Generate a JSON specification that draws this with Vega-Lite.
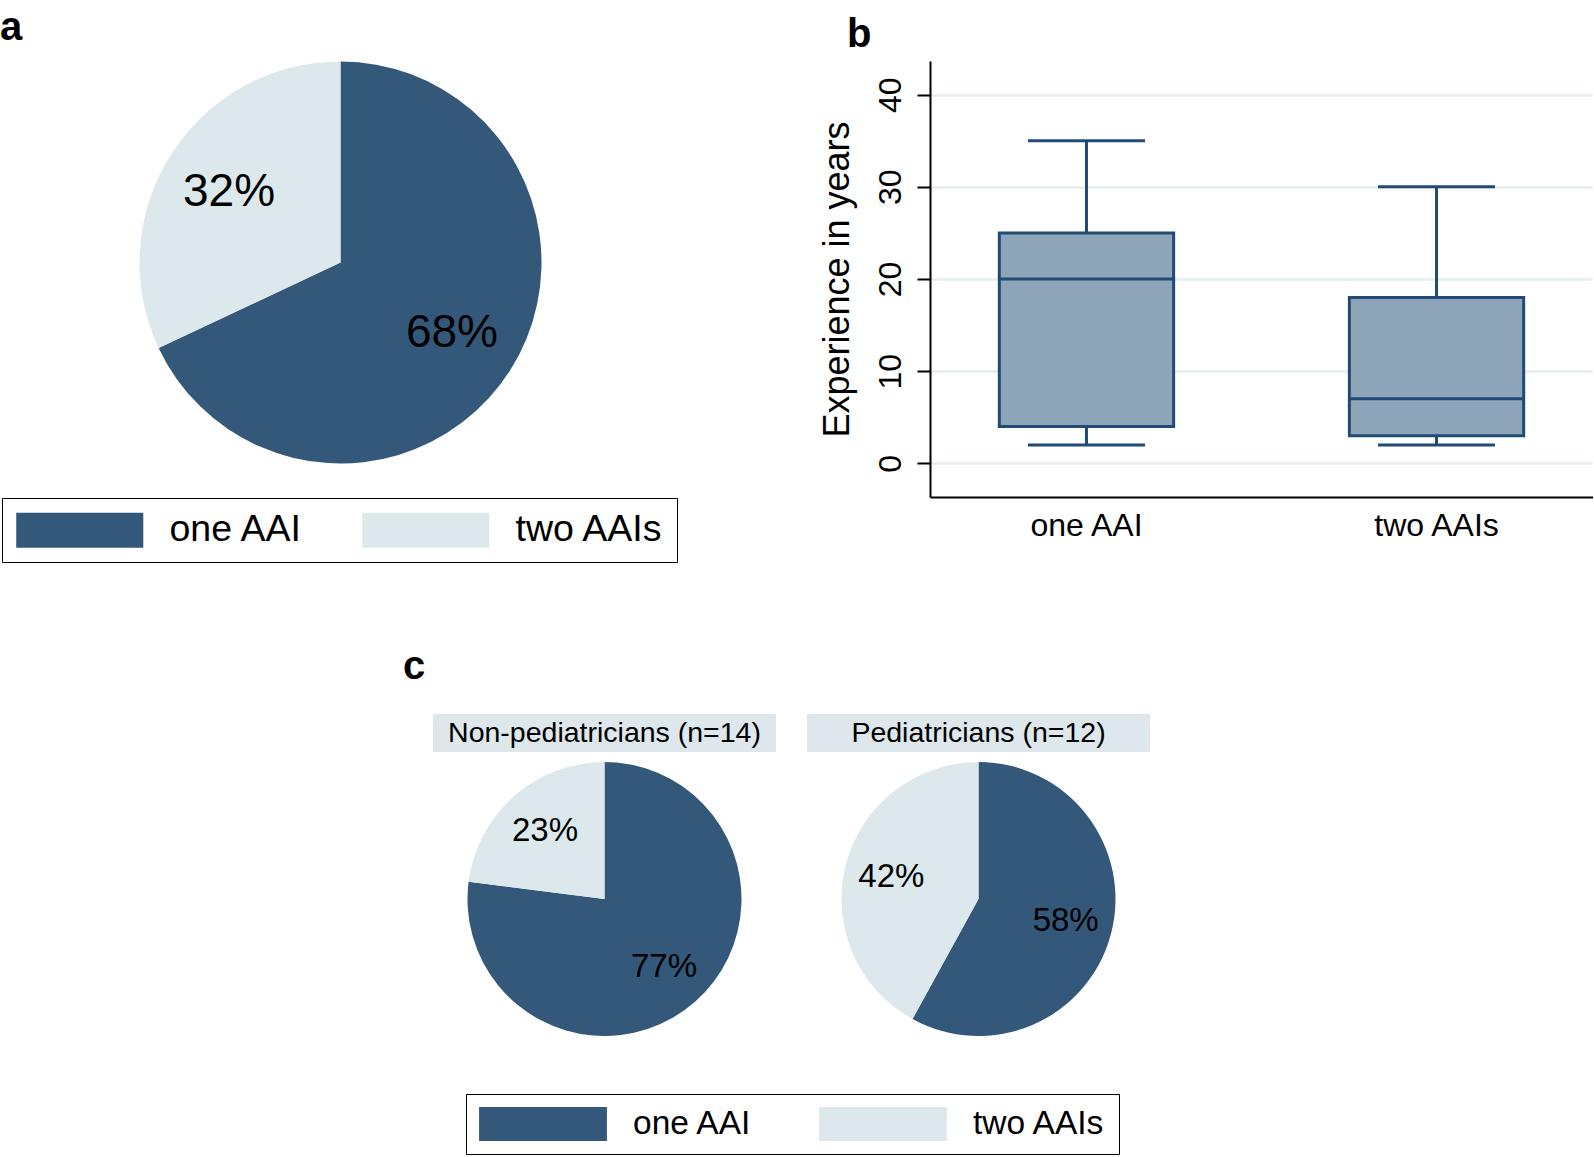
{
  "$schema": "https://vega.github.io/schema/vega-lite/v6.json",
  "padding": {"left": 0, "top": 8, "right": 0, "bottom": 0},
  "background": "white",
  "config": {
    "font": "Liberation Sans",
    "view": {"stroke": null},
    "title": {"font": "Liberation Sans", "fontSize": 40, "fontWeight": "bold", "anchor": "start", "color": "black"},
    "axis": {"labelFont": "Liberation Sans", "titleFont": "Liberation Sans", "labelColor": "black", "titleColor": "black"},
    "legend": {"labelFont": "Liberation Sans", "labelColor": "black"}
  },
  "datasets": {
    "share_all": [
      {"group": "one AAI", "pct": 68, "ord": 1, "label": "68%"},
      {"group": "two AAIs", "pct": 32, "ord": 2, "label": "32%"}
    ],
    "share_nonped": [
      {"group": "one AAI", "pct": 77, "ord": 1, "label": "77%"},
      {"group": "two AAIs", "pct": 23, "ord": 2, "label": "23%"}
    ],
    "share_ped": [
      {"group": "one AAI", "pct": 58, "ord": 1, "label": "58%"},
      {"group": "two AAIs", "pct": 42, "ord": 2, "label": "42%"}
    ],
    "exp": [
      {"group": "one AAI", "lower": 2, "q1": 4, "median": 20, "q3": 25, "upper": 35},
      {"group": "two AAIs", "lower": 2, "q1": 3, "median": 7, "q3": 18, "upper": 30}
    ],
    "hdr1": [{"label": "Non-pediatricians (n=14)"}],
    "hdr2": [{"label": "Pediatricians (n=12)"}],
    "blank": [{"label": ""}]
  },
  "resolve": {"scale": {"color": "independent"}},
  "spacing": 84,
  "vconcat": [
    {
      "spacing": 138,
      "resolve": {"scale": {"color": "independent"}},
      "hconcat": [
        {
          "width": 681,
          "height": 403,
          "title": {"text": "a", "offset": 13},
          "data": {"name": "share_all"},
          "encoding": {
            "theta": {"field": "pct", "type": "quantitative", "stack": true},
            "order": {"field": "ord", "type": "quantitative"}
          },
          "layer": [
            {
              "mark": {"type": "arc", "outerRadius": 201},
              "encoding": {
                "color": {
                  "field": "group", "type": "nominal",
                  "scale": {"domain": ["one AAI", "two AAIs"], "range": ["#33587a", "#dde8ed"]},
                  "legend": {
                    "orient": "none", "legendX": 2, "legendY": 437, "direction": "horizontal", "columns": 2,
                    "title": null, "symbolType": "M-3.63,-1H3.63V1H-3.63Z", "symbolSize": 1225, "symbolOffset": 46,
                    "symbolStrokeWidth": 0, "symbolOpacity": 1, "labelFontSize": 37.5, "labelLimit": 300,
                    "labelOffset": 71, "columnPadding": 58, "padding": 13, "strokeColor": "black"
                  }
                }
              }
            },
            {
              "mark": {"type": "text", "radius": 132, "fontSize": 46, "font": "Liberation Sans", "color": "black"},
              "encoding": {"detail": {"field": "group", "type": "nominal"}, "text": {"field": "label", "type": "nominal"}}
            }
          ]
        },
        {
          "width": 663,
          "height": 436,
          "title": {"text": "b", "offset": 15, "dx": 28, "dy": 9},
          "data": {"name": "exp"},
          "encoding": {
            "x": {
              "field": "group", "type": "nominal",
              "scale": {"paddingInner": 0.502, "paddingOuter": 0.198},
              "axis": {"title": null, "labelAngle": 0, "labelFontSize": 32, "ticks": false, "labelPadding": 13, "domainColor": "black", "domainWidth": 2, "grid": false}
            }
          },
          "layer": [
            {
              "mark": {"type": "rule", "color": "#1f4b75", "strokeWidth": 3},
              "encoding": {
                "y": {
                  "field": "lower", "type": "quantitative",
                  "scale": {"domain": [-3.65, 43.65], "nice": false, "zero": false},
                  "axis": {
                    "title": "Experience in years", "titleFontSize": 36, "titleFontWeight": "normal", "titlePadding": 18,
                    "values": [0, 10, 20, 30, 40], "labelAngle": -90, "labelFontSize": 32, "labelPadding": 10,
                    "tickSize": 13, "tickColor": "black", "tickWidth": 2, "domainColor": "black", "domainWidth": 2,
                    "grid": true, "gridColor": "#e6eef1", "gridWidth": 2.5
                  }
                },
                "y2": {"field": "upper"}
              }
            },
            {
              "mark": {"type": "bar", "fill": "#8ea4b8", "stroke": "#1f4b75", "strokeWidth": 3, "width": {"band": 1}},
              "encoding": {"y": {"field": "q1", "type": "quantitative"}, "y2": {"field": "q3"}}
            },
            {
              "mark": {"type": "tick", "color": "#1f4b75", "opacity": 1, "thickness": 3, "size": 174},
              "encoding": {"y": {"field": "median", "type": "quantitative"}}
            },
            {
              "mark": {"type": "tick", "color": "#1f4b75", "opacity": 1, "thickness": 3, "size": 117},
              "encoding": {"y": {"field": "lower", "type": "quantitative"}}
            },
            {
              "mark": {"type": "tick", "color": "#1f4b75", "opacity": 1, "thickness": 3, "size": 117},
              "encoding": {"y": {"field": "upper", "type": "quantitative"}}
            }
          ]
        }
      ]
    },
    {
      "title": {"text": "c", "dx": 403, "offset": 27},
      "spacing": 10,
      "resolve": {"scale": {"color": "independent"}},
      "vconcat": [
        {
          "spacing": 31,
          "hconcat": [
            {
              "width": 402,
              "height": 38,
              "data": {"name": "blank"},
              "mark": {"type": "text"},
              "encoding": {"text": {"field": "label", "type": "nominal"}}
            },
            {
              "width": 343,
              "height": 38,
              "view": {"fill": "#dde7ec", "stroke": null},
              "data": {"name": "hdr1"},
              "mark": {"type": "text", "fontSize": 28.5, "font": "Liberation Sans", "color": "black"},
              "encoding": {"text": {"field": "label", "type": "nominal"}}
            },
            {
              "width": 343,
              "height": 38,
              "view": {"fill": "#dde7ec", "stroke": null},
              "data": {"name": "hdr2"},
              "mark": {"type": "text", "fontSize": 28.5, "font": "Liberation Sans", "color": "black"},
              "encoding": {"text": {"field": "label", "type": "nominal"}}
            }
          ]
        },
        {
          "spacing": 31,
          "bounds": "flush",
          "resolve": {"scale": {"color": "independent"}},
          "hconcat": [
            {
              "width": 402,
              "height": 274,
              "data": {"name": "blank"},
              "mark": {"type": "text"},
              "encoding": {"text": {"field": "label", "type": "nominal"}}
            },
            {
              "width": 343,
              "height": 274,
              "data": {"name": "share_nonped"},
              "encoding": {
                "theta": {"field": "pct", "type": "quantitative", "stack": true},
                "order": {"field": "ord", "type": "quantitative"}
              },
              "layer": [
                {
                  "mark": {"type": "arc", "outerRadius": 137},
                  "encoding": {
                    "color": {
                      "field": "group", "type": "nominal",
                      "scale": {"domain": ["one AAI", "two AAIs"], "range": ["#33587a", "#dde8ed"]},
                      "legend": {
                        "orient": "none", "legendX": 33, "legendY": 332, "direction": "horizontal", "columns": 2,
                        "title": null, "symbolType": "M-3.76,-1H3.76V1H-3.76Z", "symbolSize": 1156, "symbolOffset": 47,
                        "symbolStrokeWidth": 0, "symbolOpacity": 1, "labelFontSize": 33.5, "labelLimit": 300,
                        "labelOffset": 73, "columnPadding": 66, "padding": 13, "strokeColor": "black"
                      }
                    }
                  }
                },
                {
                  "mark": {"type": "text", "radius": 90, "fontSize": 33, "font": "Liberation Sans", "color": "black"},
                  "encoding": {"detail": {"field": "group", "type": "nominal"}, "text": {"field": "label", "type": "nominal"}}
                }
              ]
            },
            {
              "width": 343,
              "height": 274,
              "data": {"name": "share_ped"},
              "encoding": {
                "theta": {"field": "pct", "type": "quantitative", "stack": true},
                "order": {"field": "ord", "type": "quantitative"}
              },
              "layer": [
                {
                  "mark": {"type": "arc", "outerRadius": 137},
                  "encoding": {
                    "color": {
                      "field": "group", "type": "nominal",
                      "scale": {"domain": ["one AAI", "two AAIs"], "range": ["#33587a", "#dde8ed"]},
                      "legend": null
                    }
                  }
                },
                {
                  "mark": {"type": "text", "radius": 90, "fontSize": 33, "font": "Liberation Sans", "color": "black"},
                  "encoding": {"detail": {"field": "group", "type": "nominal"}, "text": {"field": "label", "type": "nominal"}}
                }
              ]
            }
          ]
        }
      ]
    }
  ]
}
